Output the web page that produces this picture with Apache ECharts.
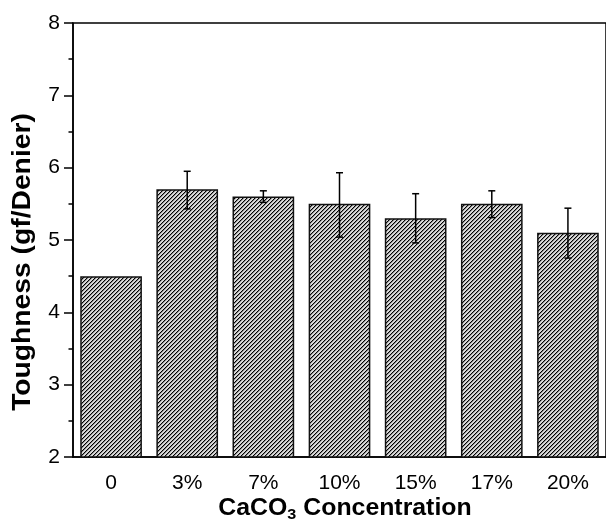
<!DOCTYPE html>
<html>
<head>
<meta charset="utf-8">
<script src="https://cdn.jsdelivr.net/npm/echarts@6/dist/echarts.min.js"></script>
<style>html,body{margin:0;padding:0;background:#fff}#c{width:606px;height:522px}</style>
</head>
<body>
<div id="c"></div>
<script>
const categories = ['0', '3%', '7%', '10%', '15%', '17%', '20%'];
const toughness = [4.5, 5.7, 5.6, 5.5, 5.3, 5.5, 5.1];
const errLow = [null, 5.43, 5.52, 5.04, 4.96, 5.31, 4.75];
const errHigh = [null, 5.95, 5.68, 5.93, 5.64, 5.68, 5.44];
const yTicks = [2, 3, 4, 5, 6, 7, 8];

const FONT = 'Liberation Sans, Arial, sans-serif';

function makeHatch() {
  const p = 4;
  const c = document.createElement('canvas');
  c.width = p; c.height = p;
  const g = c.getContext('2d');
  for (let x = 0; x < p; x++) {
    for (let y = 0; y < p; y++) {
      const k = (x + y) % p;
      g.fillStyle = k === 0 ? '#000' : (k === 1 ? '#8a8a8a' : '#dadada');
      g.fillRect(x, y, 1, 1);
    }
  }
  return c;
}

const errData = categories.map((c, i) => [i, errLow[i], errHigh[i]]).filter(d => d[1] != null);

const chart = echarts.init(document.getElementById('c'), null, {renderer: 'canvas'});
chart.setOption({
  animation: false,
  backgroundColor: '#fff',
  grid: {left: 73, top: 23, width: 540, height: 434, show: true, borderColor: '#000', borderWidth: 1.5, backgroundColor: 'transparent'},
  xAxis: [{
    type: 'category', data: categories,
    axisLine: {lineStyle: {color: '#000', width: 1.5}},
    axisTick: {alignWithLabel: true, length: 7, lineStyle: {color: '#000', width: 1.5}},
    axisLabel: {color: '#000', fontSize: 21, fontFamily: FONT, margin: 16}
  }, {
    type: 'category', data: categories, position: 'bottom',
    axisLine: {show: false},
    axisTick: {length: 4, lineStyle: {color: '#000', width: 1.5}},
    axisLabel: {show: false}
  }],
  yAxis: {
    type: 'value', min: 2, max: 8, interval: 1,
    axisLine: {show: true, lineStyle: {color: '#000', width: 1.5}},
    axisTick: {show: true, length: 9, lineStyle: {color: '#000', width: 1.5}},
    minorTick: {show: true, splitNumber: 2, length: 4.5, lineStyle: {color: '#000', width: 1.5}},
    splitLine: {show: false},
    axisLabel: {color: '#000', fontSize: 21, fontFamily: FONT, margin: 13,
      formatter: v => yTicks.includes(v) ? String(v) : ''}
  },
  graphic: [{
    type: 'text', x: 23, y: 262, rotation: Math.PI / 2, scaleX: 1.13,
    style: {text: 'Toughness (gf/Denier)', fill: '#000', font: 'bold 25px ' + FONT, align: 'center', verticalAlign: 'middle'}
  }, {
    type: 'text', x: 345, y: 509, scaleX: 1.08,
    style: {text: 'CaCO{sub|3} Concentration', fill: '#000', font: 'bold 23px ' + FONT, align: 'center', verticalAlign: 'middle',
      rich: {sub: {font: 'bold 15px ' + FONT, fill: '#000', verticalAlign: 'bottom', padding: [12, 0, 0, 0]}}}
  }],
  series: [{
    type: 'bar', data: toughness, barCategoryGap: '19%',
    itemStyle: {color: {image: makeHatch(), repeat: 'repeat'}, borderColor: '#111', borderWidth: 1.5},
    z: 2
  }, {
    type: 'custom', data: errData, z: 5,
    renderItem: function (params, api) {
      const x = api.value(0);
      const lo = api.coord([x, api.value(1)]);
      const hi = api.coord([x, api.value(2)]);
      const hw = 3.5;
      const st = {stroke: '#000', lineWidth: 1.5};
      return {type: 'group', children: [
        {type: 'line', shape: {x1: hi[0], y1: hi[1], x2: lo[0], y2: lo[1]}, style: st},
        {type: 'line', shape: {x1: hi[0] - hw, y1: hi[1], x2: hi[0] + hw, y2: hi[1]}, style: st},
        {type: 'line', shape: {x1: lo[0] - hw, y1: lo[1], x2: lo[0] + hw, y2: lo[1]}, style: st}
      ]};
    }
  }]
});
</script>
</body>
</html>
